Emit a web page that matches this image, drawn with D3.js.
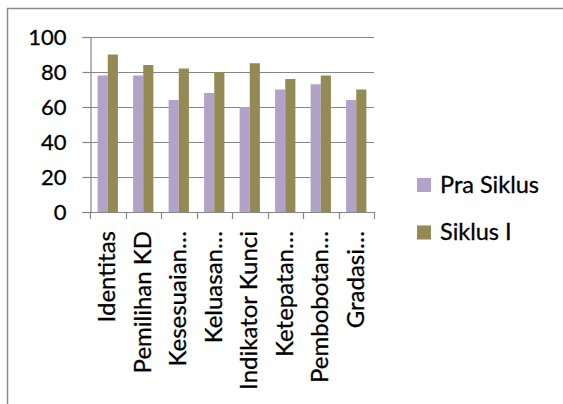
<!DOCTYPE html>
<html>
<head>
<meta charset="utf-8">
<script src="https://cdn.jsdelivr.net/npm/d3@7"></script>
<style>
  html, body { margin: 0; padding: 0; background: #fff; }
  svg { display: block; }
  text { font-family: Lato, "Open Sans", sans-serif; fill: #000; }
</style>
</head>
<body>
<svg id="chart" width="563" height="404"></svg>
<script>
// Categories shown on the x axis (long names are cut with an ellipsis)
const categories = [
  "Identitas", "Pemilihan KD", "Kesesuaian…", "Keluasan…",
  "Indikator Kunci", "Ketepatan…", "Pembobotan…", "Gradasi…"
];
const seriesNames = ["Pra Siklus", "Siklus I"];
const praSiklus = [78, 78, 64, 68, 60, 70, 73, 64];
const siklusI   = [90, 84, 82, 80, 85, 76, 78, 70];
const yTicks = [0, 20, 40, 60, 80, 100];
const seriesColors = ["#B3A2C7", "#948A54"];

const series = [praSiklus, siklusI];

const svg = d3.select("#chart");
const plot = { left: 90, right: 374, top: 37, bottom: 212 };
const gridColor = "#868686";
const fontFamily = "Lato, 'Open Sans', sans-serif";

// Slightly heavier text strokes
function ink(sel) {
  sel.attr("fill", "#000").attr("stroke", "#000").attr("stroke-width", 0.3);
}

// Outer chart frame
svg.append("rect")
  .attr("x", 7.5).attr("y", 8.5)
  .attr("width", 600).attr("height", 500)
  .attr("fill", "none").attr("stroke", "#8c8c8c").attr("stroke-width", 1.5);

const x = d3.scaleBand().domain(categories).range([plot.left, plot.right]);
const y = d3.scaleLinear().domain([0, 100]).range([plot.bottom, plot.top]);

// Bar width with a 150% gap between clusters
const barW = x.bandwidth() / 3.5;
const gapHalf = barW * 0.75;

// Horizontal gridlines
svg.append("g")
  .selectAll("line")
  .data(yTicks)
  .join("line")
  .attr("x1", plot.left).attr("x2", plot.right)
  .attr("y1", d => Math.round(y(d)) + 0.5).attr("y2", d => Math.round(y(d)) + 0.5)
  .attr("stroke", gridColor).attr("stroke-width", 1.2);

// Bars
series.forEach((vals, si) => {
  svg.append("g")
    .selectAll("rect")
    .data(vals)
    .join("rect")
    .attr("x", (d, i) => x(categories[i]) + gapHalf + si * barW)
    .attr("y", d => y(d))
    .attr("width", barW)
    .attr("height", d => y(0) - y(d))
    .attr("fill", seriesColors[si]);
});

// Y axis
const yAxis = d3.axisLeft(y).tickValues(yTicks).tickSize(8).tickPadding(16);
const gy = svg.append("g")
  .attr("transform", `translate(${plot.left + 0.5},0)`)
  .call(yAxis);
gy.select(".domain").attr("stroke", gridColor).attr("stroke-width", 1.2);
gy.selectAll(".tick line").attr("stroke", gridColor).attr("stroke-width", 1.2);
gy.selectAll(".tick text")
  .attr("font-family", fontFamily)
  .attr("font-size", 22)
  .call(ink);

// X axis line with ticks at the category boundaries
const gx = svg.append("g");
gx.append("line")
  .attr("x1", plot.left).attr("x2", plot.right)
  .attr("y1", Math.round(y(0)) + 0.5).attr("y2", Math.round(y(0)) + 0.5)
  .attr("stroke", gridColor).attr("stroke-width", 1.2);
const boundaries = categories.map(c => x(c)).concat([x(categories[categories.length - 1]) + x.bandwidth()]);
gx.selectAll("line.tk")
  .data(boundaries)
  .join("line")
  .attr("class", "tk")
  .attr("x1", d => Math.round(d) + 0.5).attr("x2", d => Math.round(d) + 0.5)
  .attr("y1", y(0)).attr("y2", y(0) + 7)
  .attr("stroke", gridColor).attr("stroke-width", 1.2);

// Rotated category labels
gx.selectAll("text")
  .data(categories)
  .join("text")
  .attr("transform", d => `translate(${x(d) + x.bandwidth() / 2 + 7.5},${y(0) + 19}) rotate(-90)`)
  .attr("text-anchor", "end")
  .attr("font-family", fontFamily)
  .attr("font-size", 24)
  .call(ink)
  .text(d => d);

// Legend
const legend = svg.append("g");
seriesNames.forEach((name, i) => {
  const ly = 185 + i * 47.5;
  legend.append("rect")
    .attr("x", 417).attr("y", ly - 7)
    .attr("width", 14).attr("height", 14)
    .attr("fill", seriesColors[i]);
  legend.append("text")
    .attr("x", 440).attr("y", ly + 7.5)
    .attr("font-family", fontFamily)
    .attr("font-size", 23.5)
    .call(ink)
    .text(name);
});
</script>
</body>
</html>
